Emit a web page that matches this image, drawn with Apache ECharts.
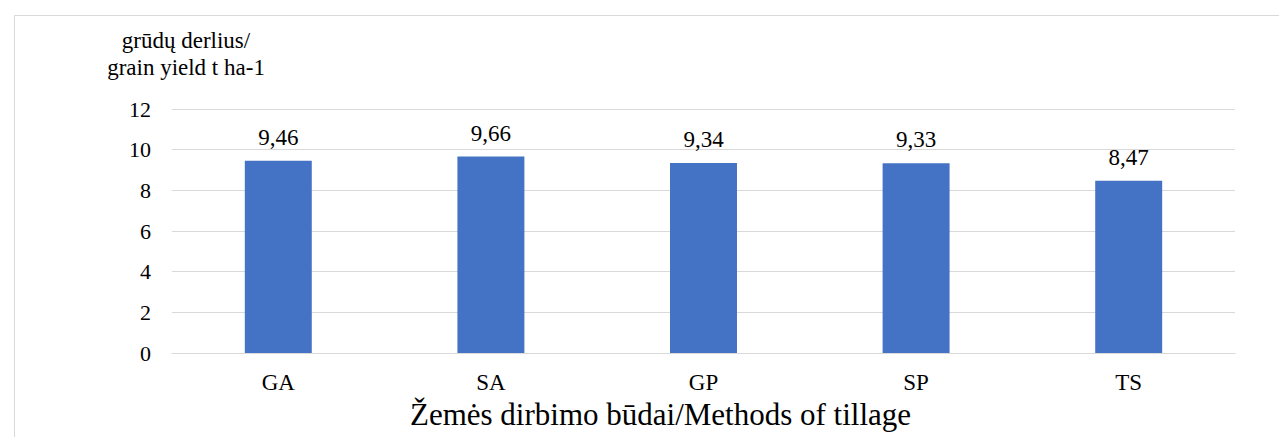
<!DOCTYPE html>
<html>
<head>
<meta charset="utf-8">
<script src="https://cdn.jsdelivr.net/npm/echarts@6/dist/echarts.min.js"></script>
<style>
  html, body { margin: 0; padding: 0; background: #fff; overflow: hidden; }
  #chart { width: 1279px; height: 437px; }
</style>
</head>
<body>
<div id="chart"></div>
<script>
var categories = ['GA', 'SA', 'GP', 'SP', 'TS'];
var yieldValues = [9.46, 9.66, 9.34, 9.33, 8.47];
var yTicks = [0, 12, 2];

(function() {
  var rule = '#d9d9d9';
  var ink = '#000000';
  var bar = '#4472c4';
  var serif = 'Liberation Serif';

  var chart = echarts.init(document.getElementById('chart'), null, { renderer: 'svg' });
  chart.setOption({
    animation: false,
    textStyle: { fontFamily: serif },
    grid: { left: 172, right: 44, top: 109, bottom: 84 },
    graphic: [
      { type: 'line', shape: { x1: 14.5, y1: 15.5, x2: 1279, y2: 15.5 }, style: { stroke: rule, lineWidth: 1 } },
      { type: 'line', shape: { x1: 14.5, y1: 15.5, x2: 14.5, y2: 437 }, style: { stroke: rule, lineWidth: 1 } }
    ],
    xAxis: {
      type: 'category',
      data: categories,
      axisTick: { show: false },
      axisLine: { lineStyle: { color: rule, width: 1 } },
      axisLabel: { color: ink, fontFamily: serif, fontSize: 23, margin: 18 },
      name: 'Žemės dirbimo būdai/Methods of tillage',
      nameLocation: 'middle',
      nameGap: 42,
      // the title sits a little left of the plot centre
      nameTextStyle: { color: ink, fontFamily: serif, fontSize: 31, padding: [0, 86, 0, 0] }
    },
    yAxis: {
      type: 'value',
      min: yTicks[0],
      max: yTicks[1],
      interval: yTicks[2],
      axisLine: { show: false },
      axisTick: { show: false },
      splitLine: { lineStyle: { color: rule, width: 1 } },
      axisLabel: { color: ink, fontFamily: serif, fontSize: 22, margin: 21 },
      name: 'grūdų derlius/\ngrain yield t ha-1',
      nameLocation: 'end',
      nameGap: 28,
      nameTextStyle: {
        color: ink, fontFamily: serif, fontSize: 23, lineHeight: 27,
        align: 'center', verticalAlign: 'bottom', padding: [0, 0, 0, 28]
      }
    },
    series: [{
      type: 'bar',
      data: yieldValues,
      barWidth: '31.5%',
      itemStyle: { color: bar },
      label: {
        show: true,
        position: 'top',
        distance: 12,
        color: ink,
        fontFamily: serif,
        fontSize: 23,
        formatter: function(p) { return p.value.toFixed(2).replace('.', ','); }
      }
    }]
  });
  window.addEventListener('resize', function() { chart.resize(); });
})();
</script>
</body>
</html>
